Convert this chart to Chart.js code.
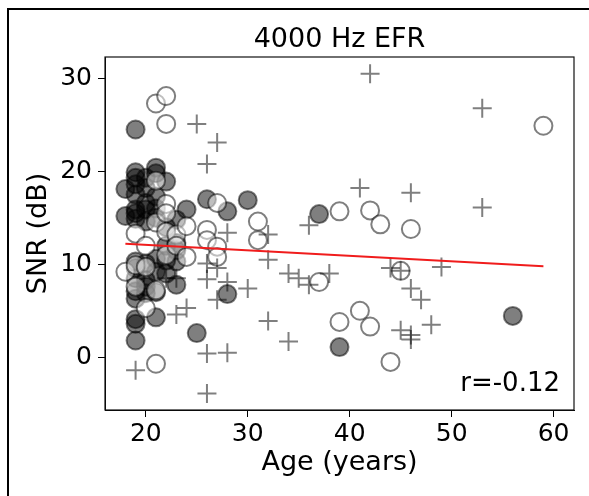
<!doctype html>
<html lang="en">
<head>
  <meta charset="utf-8">
  <title>4000 Hz EFR</title>
  <style>
    * {
      margin: 0;
      padding: 0;
    }
    body {
      background: white;
    }
    .chartBox {
      width: 589px;
      height: 496px;
      position: relative;
    }
  </style>
</head>
<body>
<div class="chartBox">
  <canvas id="myChart"></canvas>
</div>

<script src="https://cdn.jsdelivr.net/npm/chart.js"></script>
<script>
  // filled circles
  const filledAge = [18, 18, 19, 19, 19, 19, 19, 19, 19, 19, 19, 19, 19, 19, 19, 19, 19, 19,
                     20, 20, 20, 20, 20, 20, 20, 20, 20, 21, 21, 21, 21, 21, 21, 21, 21, 21,
                     22, 22, 22, 22, 22, 23, 23, 23, 23, 23, 24, 25, 26, 28, 28, 30, 37, 39, 56];
  const filledSnr = [18.1, 15.2, 24.5, 19.9, 19.3, 18.6, 17.5, 15.9, 15.5, 14.9, 10.3, 9.6, 8.5, 7.1, 6.3, 4.1, 3.6, 1.8,
                     16.6, 15.9, 18.2, 19.3, 14.6, 10.1, 8.3, 6.9, 7.6, 20.4, 19.8, 17.3, 16.0, 15.0, 9.2, 10.6, 7.0, 4.3,
                     18.9, 14.0, 12.0, 10.4, 9.0, 14.8, 12.3, 11.5, 10.3, 7.8, 15.9, 2.6, 17.0, 15.7, 6.8, 16.9, 15.4, 1.1, 4.45];

  // open circles
  const openAge = [18, 19, 19, 19, 20, 20, 20, 21, 21, 21, 21, 21, 22, 22, 22, 22, 22, 22,
                   23, 23, 24, 24, 26, 26, 27, 27, 27, 31, 31, 37, 39, 39, 41, 42, 42, 43, 44, 45, 46, 59];
  const openSnr = [9.2, 13.3, 7.6, 9.9, 9.7, 5.3, 12.0, 27.3, 14.5, 7.2, -0.7, 19.0, 28.1, 25.1, 16.5, 15.5, 11.0, 13.5,
                   13.2, 12.0, 14.1, 10.8, 13.7, 12.6, 16.6, 11.9, 10.8, 14.6, 12.6, 8.1, 15.7, 3.8, 5.0, 15.8, 3.3, 14.3, -0.5, 9.3, 13.8, 24.9];

  // plus markers
  const plusAge = [19, 22, 23, 23, 24, 25, 26, 26, 26, 26, 26, 27, 27, 27, 28, 28, 28, 30,
                   32, 32, 32, 34, 34, 35, 36, 36, 38, 41, 42, 44, 45, 45, 46, 46, 46, 46,
                   47, 48, 49, 53, 53];
  const plusSnr = [-1.4, 8.5, 4.6, 8.5, 5.3, 25.1, 20.8, 10.1, 8.4, 0.4, -3.9, 23.1, 9.6, 6.2, 13.4, 8.1, 0.5, 7.4,
                   13.2, 10.5, 3.9, 9.0, 1.7, 8.5, 7.8, 14.2, 9.0, 18.2, 30.5, 9.6, 9.3, 2.9, 17.7, 7.4, 2.4, 1.9,
                   6.2, 3.5, 9.7, 26.8, 16.1];

  // regression line end points
  const fitAge = [18, 59];
  const fitSnr = [12.2, 9.8];

  const xTicks = [20, 30, 40, 50, 60];
  const yTicks = [0, 10, 20, 30];

  const toPoints = (xs, ys) => xs.map((x, i) => ({ x: x, y: ys[i] }));

  Chart.defaults.font.family = '"DejaVu Sans", sans-serif';
  Chart.defaults.color = '#000';

  // frame, title and text labels
  const decorations = {
    id: 'decorations',
    afterDraw(chart) {
      const { ctx, chartArea: a } = chart;
      ctx.save();
      ctx.strokeStyle = '#111';
      ctx.lineWidth = 1.2;
      ctx.strokeRect(a.left, a.top, a.right - a.left, a.bottom - a.top);

      ctx.strokeStyle = '#000';
      ctx.lineWidth = 2;
      ctx.beginPath();
      ctx.moveTo(8, 496);
      ctx.lineTo(8, 9);
      ctx.lineTo(589, 9);
      ctx.stroke();

      ctx.fillStyle = '#000';
      ctx.textAlign = 'center';
      ctx.textBaseline = 'middle';
      ctx.font = '27px "DejaVu Sans"';
      ctx.fillText('4000 Hz EFR', (a.left + a.right) / 2, 40);
      ctx.fillText('Age (years)', (a.left + a.right) / 2, 463);

      ctx.save();
      ctx.translate(39, (a.top + a.bottom) / 2);
      ctx.rotate(-Math.PI / 2);
      ctx.fillText('SNR (dB)', 0, 0);
      ctx.restore();

      ctx.textAlign = 'right';
      ctx.font = '26px "DejaVu Sans"';
      ctx.fillText('r=-0.12', 560, 384);
      ctx.restore();
    }
  };

  const data = {
    datasets: [{
      type: 'line',
      data: toPoints(fitAge, fitSnr),
      borderColor: '#f01c1c',
      borderWidth: 2,
      pointRadius: 0,
      fill: false
    }, {
      data: toPoints(plusAge, plusSnr),
      pointStyle: 'cross',
      pointRadius: 9.5,
      borderWidth: 2,
      borderColor: 'rgba(0,0,0,0.5)',
      backgroundColor: 'rgba(0,0,0,0.5)'
    }, {
      data: toPoints(openAge, openSnr),
      pointStyle: 'circle',
      pointRadius: 9,
      borderWidth: 2,
      borderColor: 'rgba(0,0,0,0.5)',
      backgroundColor: 'rgba(255,255,255,0.5)'
    }, {
      data: toPoints(filledAge, filledSnr),
      pointStyle: 'circle',
      pointRadius: 9,
      borderWidth: 2,
      borderColor: 'rgba(0,0,0,0.5)',
      backgroundColor: 'rgba(0,0,0,0.5)'
    }]
  };

  const config = {
    type: 'scatter',
    data,
    options: {
      responsive: true,
      maintainAspectRatio: false,
      animation: false,
      layout: {
        padding: { left: 0, right: 15, top: 57, bottom: 0 }
      },
      scales: {
        x: {
          type: 'linear',
          min: 16,
          max: 62,
          afterBuildTicks: (scale) => { scale.ticks = xTicks.map(v => ({ value: v })); },
          afterFit: (scale) => { scale.height = 86; },
          grid: {
            drawOnChartArea: false,
            drawTicks: true,
            tickLength: 7,
            color: '#000'
          },
          border: { display: true, color: '#000', width: 1 },
          ticks: {
            padding: 2,
            font: { size: 25 },
            color: '#000'
          }
        },
        y: {
          type: 'linear',
          min: -5.67,
          max: 32.3,
          afterBuildTicks: (scale) => { scale.ticks = yTicks.map(v => ({ value: v })); },
          afterFit: (scale) => { scale.width = 105; },
          grid: {
            drawOnChartArea: false,
            drawTicks: true,
            tickLength: 7,
            color: '#000'
          },
          border: { display: true, color: '#000', width: 1 },
          ticks: {
            padding: 6,
            font: { size: 25 },
            color: '#000'
          }
        }
      },
      plugins: {
        legend: { display: false },
        tooltip: { enabled: false },
        title: { display: false }
      }
    },
    plugins: [decorations]
  };

  const myChart = new Chart(document.getElementById('myChart'), config);
</script>
</body>
</html>
